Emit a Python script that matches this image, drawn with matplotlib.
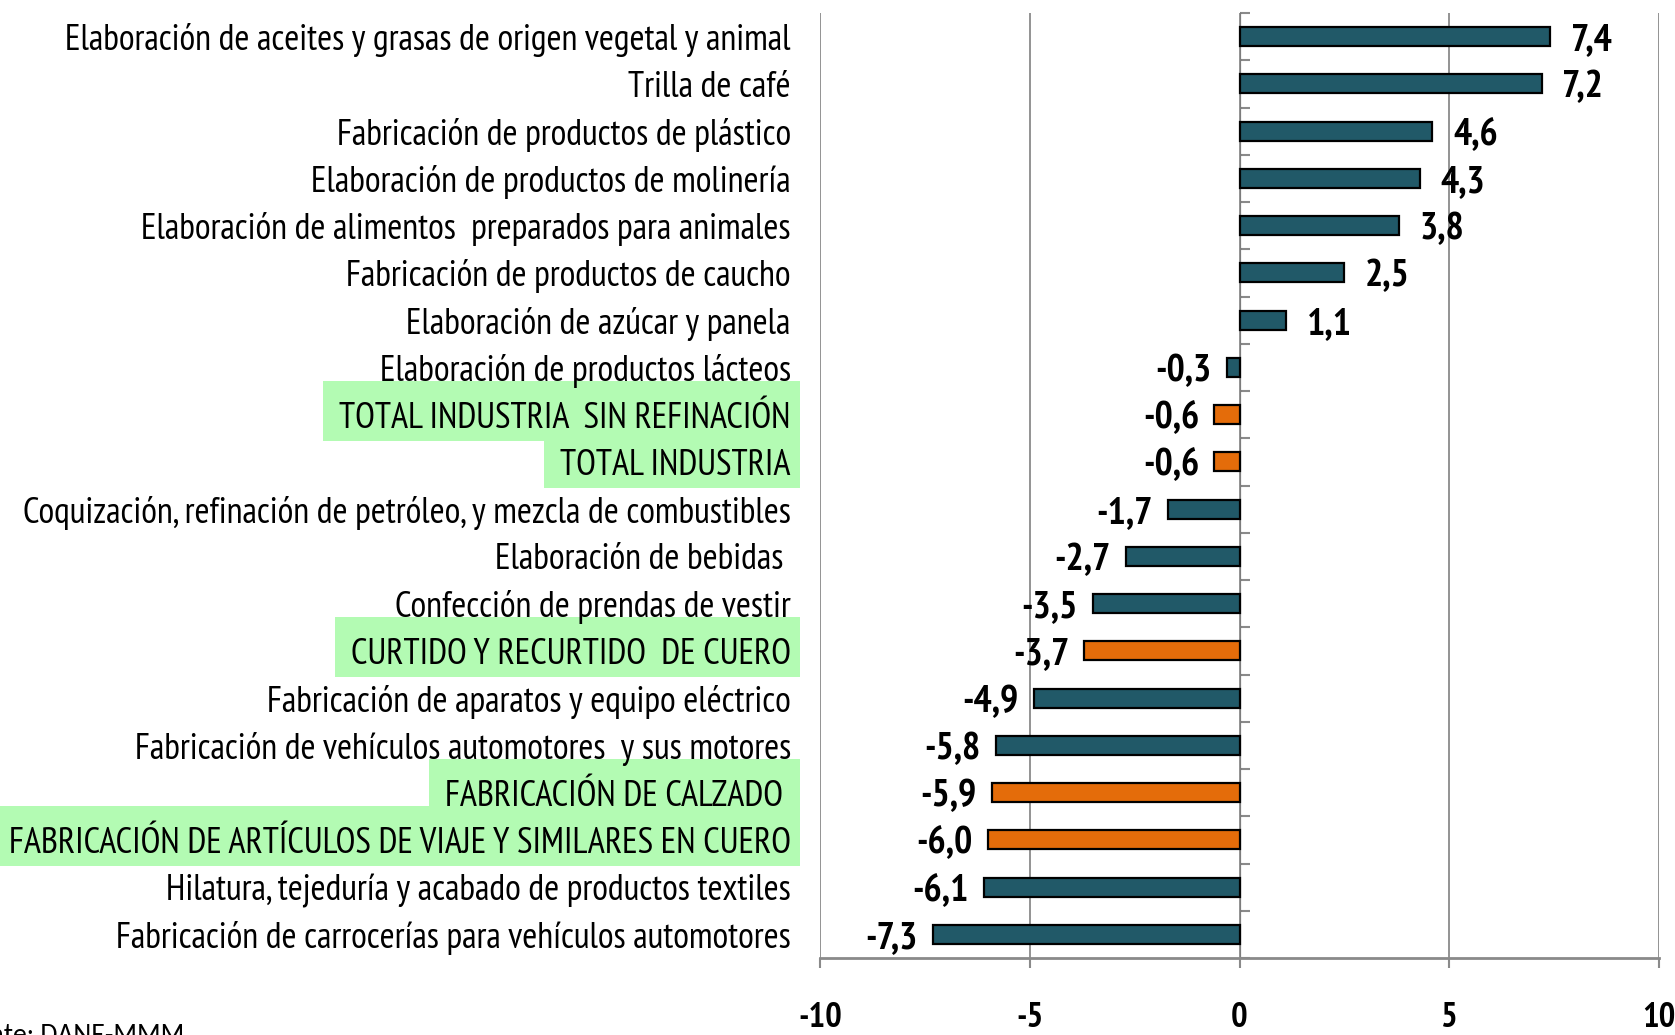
import matplotlib
matplotlib.use("Agg")
import matplotlib.pyplot as plt
import matplotlib.transforms as mtransforms
from matplotlib.patches import Rectangle
import numpy as np

categories = [
    "Elaboración de aceites y grasas de origen vegetal y animal",
    "Trilla de café",
    "Fabricación de productos de plástico",
    "Elaboración de productos de molinería",
    "Elaboración de alimentos  preparados para animales",
    "Fabricación de productos de caucho",
    "Elaboración de azúcar y panela",
    "Elaboración de productos lácteos",
    "TOTAL INDUSTRIA  SIN REFINACIÓN",
    "TOTAL INDUSTRIA",
    "Coquización, refinación de petróleo, y mezcla de combustibles",
    "Elaboración de bebidas ",
    "Confección de prendas de vestir",
    "CURTIDO Y RECURTIDO  DE CUERO",
    "Fabricación de aparatos y equipo eléctrico",
    "Fabricación de vehículos automotores  y sus motores",
    "FABRICACIÓN DE CALZADO ",
    "FABRICACIÓN DE ARTÍCULOS DE VIAJE Y SIMILARES EN CUERO",
    "Hilatura, tejeduría y acabado de productos textiles",
    "Fabricación de carrocerías para vehículos automotores",
]
values = [7.4, 7.2, 4.6, 4.3, 3.8, 2.5, 1.1, -0.3, -0.6, -0.6,
          -1.7, -2.7, -3.5, -3.7, -4.9, -5.8, -5.9, -6.0, -6.1, -7.3]
highlighted = [False, False, False, False, False, False, False, False, True, True,
               False, False, False, True, False, False, True, True, False, False]
xticks = [-10, -5, 0, 5, 10]
source_text = "Fuente: DANE-MMM"

TEAL = "#215968"
ORANGE = "#e46c0a"
GREEN = "#b3fbb3"
GRAY = "#8a8a8a"
NARROW = ["PT Sans Narrow", "DejaVu Sans"]

W, H = 1675, 1035
fig = plt.figure(figsize=(W / 100, H / 100), dpi=100)
ax = fig.add_axes([820 / W, 77 / H, (1659 - 820) / W, (1022 - 77) / H])

n = len(categories)
ypos = np.arange(n)
colors = [ORANGE if h else TEAL for h in highlighted]
ax.barh(ypos, values, height=0.4, color=colors, edgecolor="black",
        linewidth=1.6, zorder=2)

ax.set_xlim(-10, 10)
ax.set_ylim(n - 0.5, -0.5)
ax.set_axisbelow(True)

# x axis
ax.set_xticks(xticks)
ax.set_xticklabels([str(t) for t in xticks], fontsize=25, fontweight="bold",
                   family=NARROW)
ax.tick_params(axis="x", direction="out", length=7, width=1.5, color=GRAY, pad=25)
ax.xaxis.grid(True, color=GRAY, linewidth=1.3)
for s in ["top", "left", "right"]:
    ax.spines[s].set_visible(False)
ax.spines["bottom"].set_color(GRAY)
ax.spines["bottom"].set_linewidth(2)

# y labels
ax.set_yticks(ypos)
ax.set_yticklabels(categories, fontsize=26, family=NARROW)
ax.tick_params(axis="y", length=0, pad=21)

# zero axis with category boundary ticks
sec = ax.secondary_yaxis(0.5)
sec.set_yticks(np.arange(n + 1) - 0.5)
sec.set_yticklabels([])
sec.tick_params(axis="y", direction="out", length=7, width=1.5, color=GRAY)
sec.spines["left"].set_color(GRAY)
sec.spines["left"].set_linewidth(2)

# value labels
for y, v in zip(ypos, values):
    txt = f"{v:.1f}".replace(".", ",")
    if v >= 0:
        ax.annotate(txt, (v, y), xytext=(15, -3), textcoords="offset points",
                    ha="left", va="center", fontsize=27.5, fontweight="bold",
                    family=NARROW, zorder=3)
    else:
        ax.annotate(txt, (v, y), xytext=(-11, -3), textcoords="offset points",
                    ha="right", va="center", fontsize=27.5, fontweight="bold",
                    family=NARROW, zorder=3)

# highlight boxes behind labels
fig.canvas.draw()
renderer = fig.canvas.get_renderer()
trans = mtransforms.blended_transform_factory(fig.transFigure, ax.transData)
labels = ax.get_yticklabels()
right_edge = 800 / W
for i, (lab, h) in enumerate(zip(labels, highlighted)):
    if not h:
        continue
    bb = lab.get_window_extent(renderer)
    x0 = (bb.x0 - 16) / W
    rect = Rectangle((x0, i - 0.72), right_edge - x0, 1.27, transform=trans,
                     facecolor=GREEN, edgecolor="none", clip_on=False, zorder=0.3)
    ax.add_patch(rect)

fig.text(184 / W, -0.008, source_text, ha="right", va="baseline", fontsize=20,
         family=["Carlito", "DejaVu Sans"])

fig.savefig("out.png", dpi=100)
